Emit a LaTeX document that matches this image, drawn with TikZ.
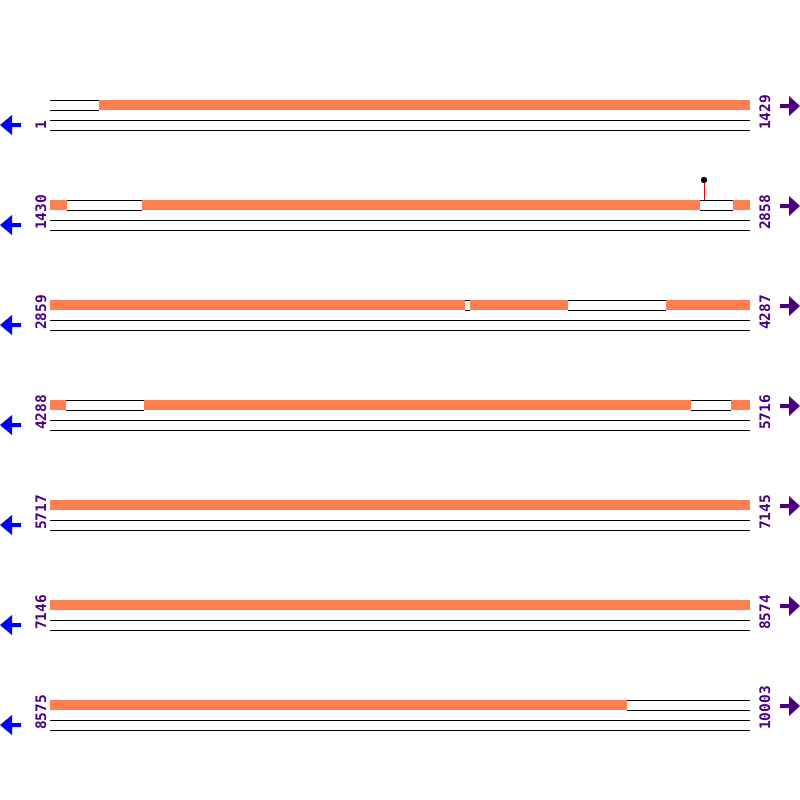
\documentclass[tikz,border=0pt]{standalone}
\usepackage{fontspec}
\usepackage{tikz}
\usepackage{xcolor}
\newfontfamily\seqfont{DejaVu Sans Mono}
\definecolor{feat}{RGB}{255,127,80}
\definecolor{numcol}{RGB}{75,0,130}
\definecolor{revcol}{RGB}{0,0,255}

\tikzset{
  track/.style={black,line width=1pt},
  poslabel/.style={numcol,rotate=90,anchor=base west,inner sep=0pt,
    font=\seqfont\bfseries\fontsize{14.5}{16}\selectfont},
}

\begin{document}
\begin{tikzpicture}[x=1pt,y=-1pt]
    \useasboundingbox (0,0) rectangle (800,800);
    % one row per 1429 bases: label, orange bar, two strand lines, arrows
    \foreach \r/\lo/\hi in {0/1/1429,1/1430/2858,2/2859/4287,3/4288/5716,
                            4/5717/7145,5/7146/8574,6/8575/10003}{
      \pgfmathsetmacro{\yb}{100+100*\r}
      \fill[feat] (50,\yb) rectangle (750,\yb+10);
      \draw[track] (50,\yb+20) -- (750,\yb+20);
      \draw[track] (50,\yb+30) -- (750,\yb+30);
      \node[poslabel] (lo\r) at (46,\yb+30) {\lo};
      \node[poslabel] (hi\r) at (770,\yb+30) {\hi};
      % strand arrows
      \fill[revcol] (0,\yb+25) -- (12,\yb+15) -- (12,\yb+23) -- (21,\yb+23)
        -- (21,\yb+27) -- (12,\yb+27) -- (12,\yb+35) -- cycle;
      \fill[numcol] (800,\yb+6) -- (789,\yb-4) -- (789,\yb+4) -- (780,\yb+4)
        -- (780,\yb+8) -- (789,\yb+8) -- (789,\yb+16) -- cycle;
    }
    % uncovered stretches (white boxes)
    \foreach \r/\xa/\xb in {0/50/99,1/67/142,1/700/733,2/465/470,2/568/666,
                            3/66/144,3/691/731,6/627/750}{
      \pgfmathsetmacro{\yb}{100+100*\r}
      \fill[white] (\xa,\yb) rectangle (\xb,\yb+10);
      \draw[track] (\xa,\yb) -- (\xb,\yb);
      \draw[track] (\xa,\yb+10) -- (\xb,\yb+10);
    }
    % site marker
    \draw[red,line width=1pt] (704,180) -- (704,200);
    \fill[black] (704,180) circle (3.2);
\end{tikzpicture}
\end{document}
